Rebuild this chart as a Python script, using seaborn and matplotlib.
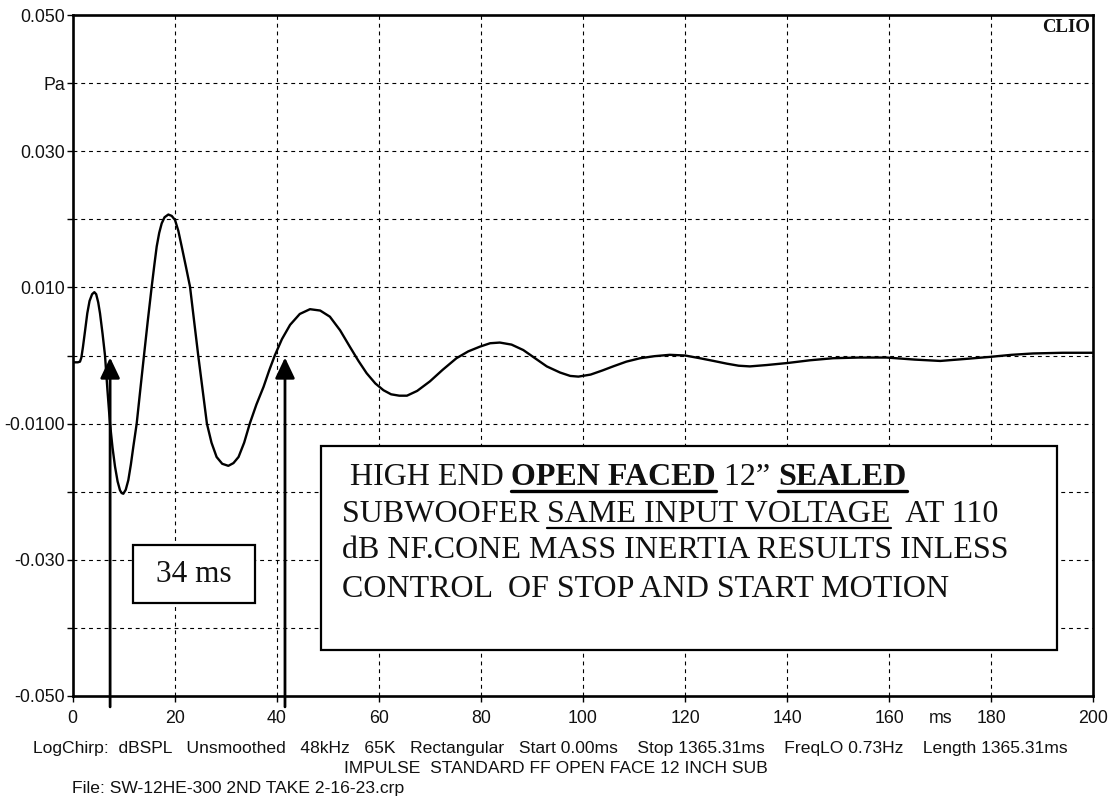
#!/usr/bin/env python3
"""
Impulse response plot (CLIO style) of a 12 inch sealed subwoofer.
Writes out.png (1112x800).
"""
import matplotlib
matplotlib.use('Agg')
import matplotlib.pyplot as plt
from matplotlib.lines import Line2D
from matplotlib.patches import Rectangle
import seaborn as sns

# impulse trace (ms, Pa)
time_ms = [0.0, 1.0, 1.43, 1.7, 2.0, 2.4, 2.86, 3.3, 3.8, 4.24, 4.6, 5.0, 5.35, 5.85,
           6.33, 6.8, 7.31, 7.8, 8.29, 8.8, 9.27, 9.6, 9.92, 10.4, 10.9, 11.4, 11.88,
           12.54, 13.25, 13.97, 14.7, 15.48, 16.0, 16.46, 16.95, 17.44, 18.0, 18.74,
           19.4, 20.05, 20.7, 21.36, 22.2, 22.99, 23.8, 24.6, 25.45, 26.3, 27.2, 28.2,
           29.3, 30.5, 31.5, 32.5, 33.6, 34.7, 36.0, 37.4, 38.5, 39.6, 41.0, 42.6,
           44.5, 46.5, 48.5, 50.4, 52.4, 54.3, 56.0, 57.6, 59.3, 60.9, 62.4, 64.0,
           65.5, 67.5, 70.0, 72.5, 75.2, 77.5, 79.8, 81.8, 83.7, 86.0, 88.3, 90.6,
           92.9, 95.5, 97.5, 99.1, 101.5, 103.8, 105.9, 108.5, 111.2, 114.0, 117.0,
           120.0, 122.9, 125.6, 128.2, 130.5, 132.7, 136.0, 140.1, 144.5, 149.0,
           154.0, 159.5, 165.0, 170.0, 175.0, 179.8, 184.0, 188.2, 194.0, 200.0]
pressure_pa = [-0.0010, -0.0010, -0.0009, -0.0003, 0.0012, 0.0035, 0.0062, 0.0080,
               0.0090, 0.0093, 0.0090, 0.0078, 0.0062, 0.0032, 0.0000, -0.0050,
               -0.0100, -0.0135, -0.0163, -0.0185, -0.0198, -0.0202, -0.0203, -0.0197,
               -0.0183, -0.0160, -0.0134, -0.0100, -0.0050, 0.0000, 0.0050, 0.0101,
               0.0133, 0.0160, 0.0180, 0.0194, 0.0203, 0.0207, 0.0205, 0.0199, 0.0183,
               0.0160, 0.0130, 0.0101, 0.0050, 0.0000, -0.0050, -0.0100, -0.0128,
               -0.0149, -0.0159, -0.0162, -0.0158, -0.0149, -0.0128, -0.0100, -0.0072,
               -0.0046, -0.0022, 0.0000, 0.0024, 0.0045, 0.0061, 0.0068, 0.0066,
               0.0057, 0.0037, 0.0013, -0.0008, -0.0026, -0.0041, -0.0051, -0.0057,
               -0.0059, -0.0059, -0.0052, -0.0038, -0.0021, -0.0004, 0.0006, 0.0013,
               0.0018, 0.0019, 0.0016, 0.0008, -0.0004, -0.0016, -0.0025, -0.0030,
               -0.0031, -0.0028, -0.0022, -0.0016, -0.0009, -0.0004, -0.0001, 0.0001,
               0.0000, -0.0004, -0.0008, -0.0012, -0.0015, -0.0016, -0.0014, -0.0011,
               -0.0007, -0.0004, -0.0003, -0.0003, -0.0006, -0.0008, -0.0005, -0.0002,
               0.0001, 0.0003, 0.0004, 0.0004]

y_ticks = [-0.05, -0.04, -0.03, -0.02, -0.01, 0.0, 0.01, 0.02, 0.03, 0.04, 0.05]
y_tick_labels = ['-0.050', '', '-0.030', '', '-0.0100', '', '0.010', '', '0.030', 'Pa', '0.050']
x_ticks = [0, 20, 40, 60, 80, 100, 120, 140, 160, 180, 200]
x_tick_labels = [str(v) for v in x_ticks]

# arrows marking the two zero crossings (ms)
marker_times = [7.33, 41.6]
marker_label = '34 ms'

footer_lines = [
    'LogChirp:  dBSPL   Unsmoothed   48kHz   65K   Rectangular   Start 0.00ms    '
    'Stop 1365.31ms    FreqLO 0.73Hz    Length 1365.31ms',
    'IMPULSE  STANDARD FF OPEN FACE 12 INCH SUB',
    'File: SW-12HE-300 2ND TAKE 2-16-23.crp',
]

# note text: (text, weight, underline) runs per line
note_lines = [
    [(' HIGH END ', 'normal', False), ('OPEN FACED', 'bold', True),
     (' 12\u201d ', 'normal', False), ('SEALED', 'bold', True)],
    [('SUBWOOFER ', 'normal', False), ('SAME INPUT VOLTAGE', 'normal', True),
     ('  AT 110', 'normal', False)],
    [('dB NF.CONE MASS INERTIA RESULTS INLESS', 'normal', False)],
    [('CONTROL  OF STOP AND START MOTION', 'normal', False)],
]

W, H = 1112, 800

sns.set_theme(style='white')
plt.rcParams['font.family'] = ['Liberation Sans', 'DejaVu Sans']
SERIF = ['Liberation Serif', 'DejaVu Serif']

fig = plt.figure(figsize=(W / 100, H / 100), dpi=100)
ax = fig.add_axes([72.7 / W, 1 - 696 / H, (1093.3 - 72.7) / W, (696 - 15) / H])

sns.lineplot(x=time_ms, y=pressure_pa, ax=ax, color='black', linewidth=1.7, zorder=3)

ax.set_xlim(0, 200)
ax.set_ylim(-0.05, 0.05)
ax.set_xticks(x_ticks, labels=x_tick_labels)
ax.set_xticks([170], labels=['ms'], minor=True)
ax.set_yticks(y_ticks, labels=y_tick_labels)
ax.set_xlabel('')
ax.set_ylabel('')
ax.tick_params(axis='both', which='major', direction='out', length=4, width=1,
               color='black', labelsize=12.8, labelcolor='#111111')
ax.tick_params(axis='x', which='major', pad=6)
ax.tick_params(axis='y', which='major', pad=1.5)
ax.tick_params(axis='x', which='minor', length=0, labelsize=12.8, pad=10, labelcolor='#111111')
ax.tick_params(bottom=True, left=True)

for v in x_ticks[1:-1]:
    ax.axvline(v, color='black', lw=0.8, ls=(0, (3.5, 3.5)), zorder=1)
for v in y_ticks[1:-1]:
    ax.axhline(v, color='black', lw=0.8, ls=(0, (3.5, 3.5)), zorder=1)

for s in ax.spines.values():
    s.set_color('black')
    s.set_linewidth(1.9)
    s.set_zorder(5)

# arrows from below the axis up to the zero line
for t in marker_times:
    ax.annotate('', xy=(t, -0.0003), xytext=(t, -0.0516),
                arrowprops=dict(arrowstyle='-|>,head_length=1.05,head_width=0.5',
                                color='black', lw=2, shrinkA=0, shrinkB=0),
                annotation_clip=False, zorder=6)

# 34 ms box
ax.add_patch(Rectangle((11.87, -0.0364), 35.72 - 11.87, 0.0364 - 0.0278,
                       facecolor='white', edgecolor='black', lw=1.6, zorder=4))
ax.text((11.87 + 35.72) / 2, -0.0321, marker_label, ha='center', va='center',
        fontsize=22.5, family=SERIF, color='#111111', zorder=5)

# note box
ax.add_patch(Rectangle((48.66, -0.04325), 192.9 - 48.66, 0.04325 - 0.01329,
                       facecolor='white', edgecolor='black', lw=1.6, zorder=4))

ax.text(199.4, 0.0494, 'CLIO', ha='right', va='top', fontsize=13.5, fontweight='bold',
        family=SERIF, color='#111111', zorder=6)

fig.canvas.draw()
renderer = fig.canvas.get_renderer()


def run_width(s, **kw):
    t = fig.text(0, 0, s + '|', **kw)
    w1 = t.get_window_extent(renderer).width
    t.set_text('|')
    w2 = t.get_window_extent(renderer).width
    t.remove()
    return w1 - w2


note_size = 23
line_starts = [341.7, 341.7, 341.7, 341.7]
baselines = [485, 521.7, 558, 596.7]
for runs, x0, base in zip(note_lines, line_starts, baselines):
    x = x0
    for text, weight, ul in runs:
        kw = dict(fontsize=note_size, fontweight=weight, family=SERIF)
        fig.text(x / W, 1 - base / H, text, ha='left', va='baseline',
                 color='#111111', zorder=7, **kw)
        w = run_width(text, **kw)
        if ul:
            lw = 2.4 if weight == 'bold' else 1.6
            fig.add_artist(Line2D([x / W, (x + w) / W], [1 - (base + 6) / H] * 2,
                                  color='black', lw=lw, zorder=7))
        x += w

footer_pos = [(33, 753), (344, 773), (72, 793)]
for line, (x, y) in zip(footer_lines, footer_pos):
    fig.text(x / W, 1 - y / H, line, ha='left', va='baseline', fontsize=12.6,
             color='#111111')

fig.savefig('out.png', dpi=100, facecolor='white')
